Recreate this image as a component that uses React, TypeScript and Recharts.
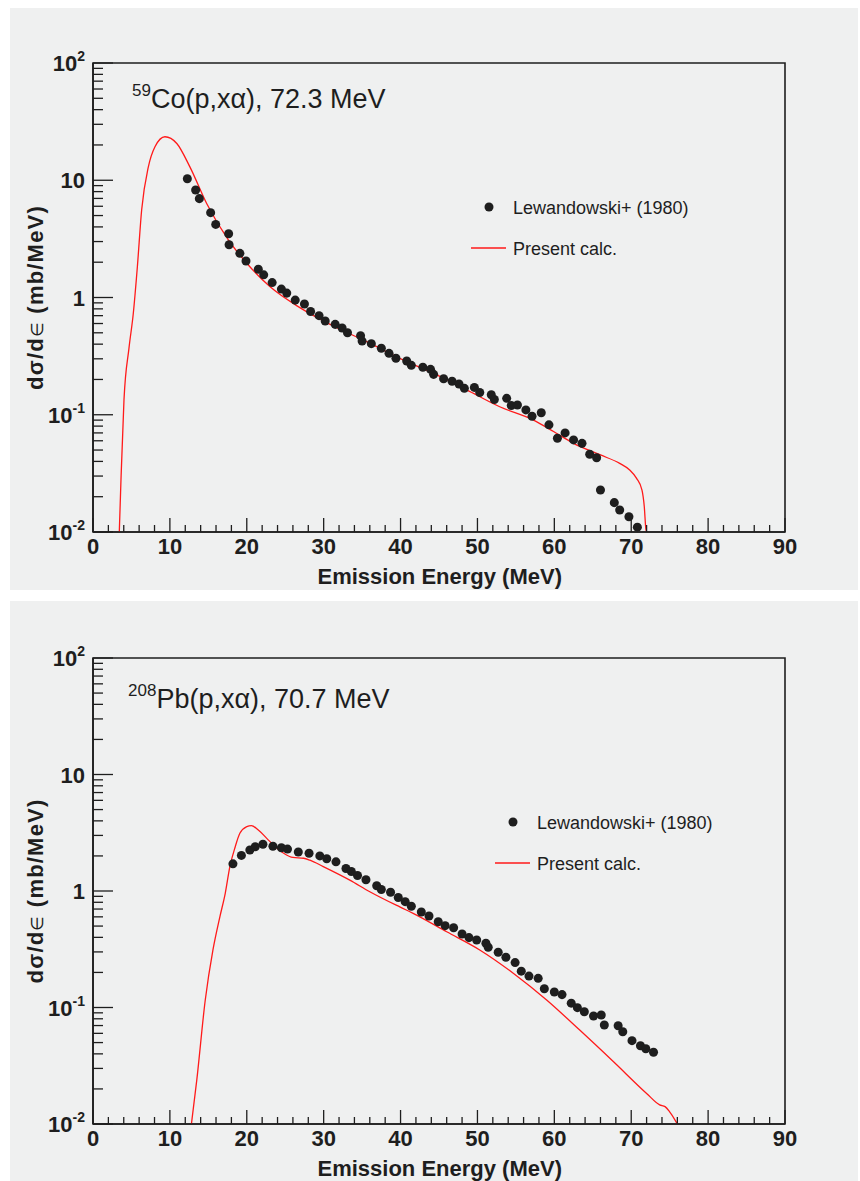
import {
  ComposedChart,
  Customized,
  Line,
  ReferenceArea,
  Scatter,
  XAxis,
  YAxis,
} from 'recharts'

// 59Co(p,xα) 72.3 MeV — present calculation
const coCalcE = [
  3.42, 3.64, 4.03, 4.68, 5.24, 5.77, 6.33, 7.2, 8.06, 9.36, 10.9, 12.6, 14.8,
  17.6, 20.0, 23.0, 26.9, 31.3, 35.6, 39.9, 44.3, 48.6, 52.9, 57.3, 59.9, 62.5,
  66.0, 68.5, 69.8, 70.7, 71.4, 71.7, 71.9, 72.0,
]
const coCalcV = [
  0.01, 0.028, 0.134, 0.37, 0.73, 1.83, 5.6, 13, 19.3, 23.5, 20.6, 13, 6.3,
  3.1, 1.96, 1.24, 0.82, 0.57, 0.42, 0.303, 0.225, 0.163, 0.117, 0.09, 0.072,
  0.057, 0.0454, 0.0385, 0.0338, 0.0287, 0.0228, 0.0164, 0.0107, 0.01,
]

// 59Co — Lewandowski+ (1980)
const coExpE = [
  12.27, 13.35, 13.83, 15.3, 15.96, 17.64, 17.7, 19.1, 19.9, 21.5, 22.2, 23.3,
  24.5, 25.2, 26.3, 27.5, 28.3, 29.4, 30.2, 31.5, 32.4, 33.1, 34.8, 35.0, 36.2,
  37.5, 38.5, 39.4, 40.8, 41.4, 42.9, 43.9, 44.3, 45.6, 46.7, 47.6, 48.3, 49.6,
  50.3, 51.8, 52.2, 53.8, 54.4, 55.2, 56.3, 57.1, 58.3, 59.3, 60.4, 61.4, 62.5,
  63.6, 64.6, 65.5, 66.0, 67.8, 68.5, 69.7, 70.8,
]
const coExpV = [
  10.3, 8.26, 6.97, 5.29, 4.2, 3.5, 2.82, 2.38, 2.05, 1.74, 1.56, 1.34, 1.18,
  1.09, 0.95, 0.88, 0.76, 0.7, 0.63, 0.59, 0.55, 0.5, 0.472, 0.425, 0.404,
  0.369, 0.334, 0.303, 0.287, 0.264, 0.254, 0.244, 0.221, 0.203, 0.193, 0.183,
  0.168, 0.171, 0.155, 0.148, 0.135, 0.138, 0.12, 0.121, 0.11, 0.097, 0.104,
  0.082, 0.063, 0.07, 0.061, 0.057, 0.046, 0.043, 0.0228, 0.0178, 0.0154,
  0.0135, 0.011,
]

// 208Pb(p,xα) 70.7 MeV — present calculation
const pbCalcE = [
  12.8, 13.5, 14.6, 15.6, 16.5, 17.2, 17.8, 18.5, 19.1, 20.0, 20.6, 21.5, 22.6,
  23.7, 24.8, 26.0, 27.4, 28.2, 29.95, 33.4, 36.0, 39.9, 41.7, 46.0, 50.3,
  54.7, 59.0, 63.3, 67.7, 72.0, 73.7, 74.4, 75.0, 75.7, 76.0,
]
const pbCalcV = [
  0.01, 0.0239, 0.116, 0.312, 0.6, 0.955, 1.62, 2.4, 3.13, 3.57, 3.64, 3.34,
  2.83, 2.4, 2.11, 1.94, 1.91, 1.84, 1.62, 1.24, 0.986, 0.73, 0.64, 0.447,
  0.312, 0.196, 0.116, 0.064, 0.0342, 0.0183, 0.0146, 0.0141, 0.0127, 0.0108,
  0.01,
]

// 208Pb — Lewandowski+ (1980)
const pbExpE = [
  18.2, 19.3, 20.4, 21.1, 22.1, 23.4, 24.5, 25.3, 26.7, 28.1, 29.5, 30.4, 31.6,
  32.9, 33.6, 34.4, 35.5, 36.9, 37.5, 38.7, 39.7, 40.6, 41.4, 42.7, 43.7, 44.9,
  45.8, 46.9, 48.0, 48.9, 49.9, 51.1, 51.4, 52.7, 53.7, 54.9, 55.7, 56.7, 57.9,
  58.7, 60.0, 61.0, 62.2, 63.0, 63.9, 65.1, 66.1, 66.5, 68.3, 68.9, 70.1, 71.2,
  71.9, 72.9,
]
const pbExpV = [
  1.71, 2.02, 2.25, 2.4, 2.52, 2.42, 2.35, 2.29, 2.16, 2.11, 2.0, 1.89, 1.78,
  1.56, 1.47, 1.36, 1.25, 1.11, 1.03, 0.975, 0.88, 0.81, 0.74, 0.66, 0.61,
  0.545, 0.504, 0.484, 0.427, 0.398, 0.38, 0.356, 0.329, 0.298, 0.27, 0.243,
  0.205, 0.186, 0.178, 0.145, 0.136, 0.129, 0.109, 0.0997, 0.092, 0.0846,
  0.0863, 0.0708, 0.0698, 0.062, 0.0519, 0.047, 0.0443, 0.0413,
]

const xTicks = Array.from({ length: 46 }, (_, i) => i * 2)
const yDecades = [0.01, 0.1, 1, 10]
const yTicks = [...yDecades.flatMap((d) => [1, 2, 3, 4, 5, 6, 7, 8, 9].map((m) => +(d * m).toPrecision(3))), 100]

const FONT = '"Liberation Sans", Arial, Helvetica, sans-serif'
const INK = '#1e1e1e'
const RED = '#ff1a1a'
const BG = '#eff0f0'

const zip = (es: number[], vs: number[]) => es.map((e, i) => ({ e, v: vs[i] }))

function XTick({ x, y, payload }: any) {
  const v = payload.value
  const major = v % 10 === 0
  return (
    <g>
      <line x1={x} x2={x} y1={y} y2={y - (major ? 14 : 7)} stroke={INK} strokeWidth={1.3} />
      {major && (
        <text x={x} y={y + 22} textAnchor="middle" fontFamily={FONT} fontWeight="bold" fontSize={22} fill={INK}>
          {v}
        </text>
      )}
    </g>
  )
}

function YTick({ x, y, payload }: any) {
  const v = payload.value
  const lg = Math.round(Math.log10(v))
  const major = Math.abs(Math.log10(v) - lg) < 1e-6
  let label: any = null
  if (major) {
    const base = lg === 0 ? '1' : '10'
    const exp = lg === 0 || lg === 1 ? null : String(lg)
    label = (
      <text x={x - 8} y={y + 8} textAnchor="end" fontFamily={FONT} fontWeight="bold" fontSize={22} fill={INK}>
        <tspan>{base}</tspan>
        {exp && (
          <tspan dy={-10} fontSize={14}>
            {exp}
          </tspan>
        )}
      </text>
    )
  }
  return (
    <g>
      <line x1={x} x2={x + (major ? 20 : 10)} y1={y} y2={y} stroke={INK} strokeWidth={1.3} />
      {label}
    </g>
  )
}

interface PanelProps {
  calc: { e: number; v: number }[]
  exp: { e: number; v: number }[]
  sup: string
  reaction: string
  titleX: number
  titleY: number
  legX: number
  legY: number
  top: number
  height: number
  plotBottom: number
  posY: number
}

function Panel({ calc, exp, sup, reaction, titleX, titleY, legX, legY, top, height, plotBottom, posY }: PanelProps) {
  const W = 848
  const midY = (top + plotBottom) / 2
  const Overlay = () => (
    <g fontFamily={FONT} fill={INK}>
      <text x={titleX} y={titleY} fontSize={27}>
        <tspan fontSize={17} dy={-12}>
          {sup}
        </tspan>
        <tspan dy={12}>{reaction}</tspan>
      </text>
      <circle cx={legX} cy={legY} r={4.5} fill={INK} />
      <text x={legX + 24} y={legY + 6.5} fontSize={18}>
        Lewandowski+ (1980)
      </text>
      <line x1={legX - 18} x2={legX + 17} y1={legY + 41} y2={legY + 41} stroke={RED} strokeWidth={1.3} />
      <text x={legX + 24} y={legY + 48} fontSize={18}>
        Present calc.
      </text>
      <text x={552} y={plotBottom + 52} textAnchor="end" fontSize={22} fontWeight="bold">
        Emission Energy (MeV)
      </text>
      <text
        x={33}
        y={midY}
        textAnchor="middle"
        fontSize={22}
        fontWeight="bold"
        letterSpacing={1.2}
        transform={`rotate(-90 33 ${midY})`}
      >
        dσ/d<tspan fontSize={17} fontWeight="normal">∈</tspan> (mb/MeV)
      </text>
    </g>
  )
  return (
    <div style={{ position: 'absolute', left: 10, top: posY, width: W, height, background: BG, overflow: 'hidden' }}>
      <ComposedChart
        width={W}
        height={height}
        margin={{ top, right: W - 775, bottom: 0, left: 0 }}
      >
        <XAxis
          type="number"
          dataKey="e"
          domain={[0, 90]}
          ticks={xTicks}
          interval={0}
          tickSize={0}
          tickMargin={0}
          tickLine={false}
          height={height - plotBottom}
          axisLine={{ stroke: INK, strokeWidth: 1.6 }}
          tick={<XTick />}
          allowDataOverflow
        />
        <YAxis
          type="number"
          dataKey="v"
          scale="log"
          domain={[0.01, 100]}
          ticks={yTicks}
          interval={0}
          tickSize={0}
          tickMargin={0}
          tickLine={false}
          width={83}
          axisLine={{ stroke: INK, strokeWidth: 1.6 }}
          tick={<YTick />}
          allowDataOverflow
        />
        <ReferenceArea x1={0} x2={90} y1={0.01} y2={100} fill="none" stroke={INK} strokeWidth={1.6} />
        <Line
          data={calc}
          dataKey="v"
          type="monotone"
          stroke={RED}
          strokeWidth={1.3}
          dot={false}
          isAnimationActive={false}
        />
        <Scatter data={exp} dataKey="v" fill={INK} isAnimationActive={false} />
        <Customized component={<Overlay />} />
      </ComposedChart>
    </div>
  )
}

export default function App() {
  return (
    <div style={{ position: 'fixed', left: 0, top: 0, width: 860, height: 1181, background: '#fff', overflow: 'hidden' }}>
      <Panel
        calc={zip(coCalcE, coCalcV)}
        exp={zip(coExpE, coExpV)}
        sup="59"
        reaction="Co(p,xα), 72.3 MeV"
        titleX={122}
        titleY={100}
        legX={479}
        legY={199}
        top={55}
        height={582}
        plotBottom={524}
        posY={8}
      />
      <Panel
        calc={zip(pbCalcE, pbCalcV)}
        exp={zip(pbExpE, pbExpV)}
        sup="208"
        reaction="Pb(p,xα), 70.7 MeV"
        titleX={118}
        titleY={107}
        legX={503}
        legY={221}
        top={57}
        height={580}
        plotBottom={523}
        posY={601}
      />
    </div>
  )
}
